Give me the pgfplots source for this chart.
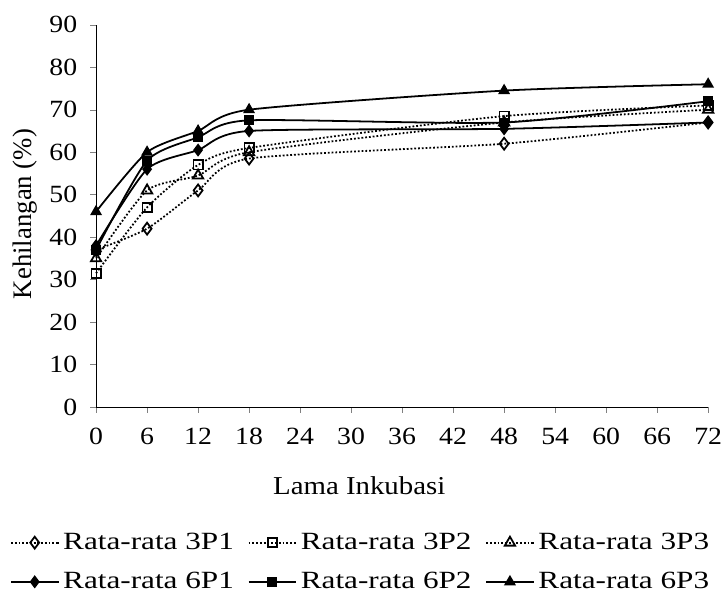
\documentclass[border=0pt]{standalone}
\usepackage{fontspec}
\setmainfont{Liberation Serif}
\newfontfamily\wide[FakeStretch=1.12]{Liberation Serif}
\newfontfamily\legfont[FakeStretch=1.26]{Liberation Serif}
\usepackage{pgfplots}
\pgfplotsset{compat=1.18}

\begin{document}
\begin{tikzpicture}
\begin{axis}[
    width=309pt, height=193pt,
    scale only axis,
    axis lines*=left,
    xmin=0, xmax=72, ymin=0, ymax=90,
    xtick={0,6,...,72}, ytick={0,10,...,90},
    tick align=outside,
    major tick length=3pt,
    clip=false,
    /pgf/number format/assume math mode=true,
    tick label style={font=\wide\fontsize{12.5}{14}\selectfont},
    xticklabel style={yshift=-4pt, inner xsep=0.5pt},
    yticklabel style={xshift=-3pt},
    xlabel={Lama Inkubasi},
    ylabel={Kehilangan\ (\%)},
    x label style={font=\wide\fontsize{13}{15}\selectfont,
        at={(axis description cs:0.43,-0.205)}, anchor=center},
    y label style={font=\fontsize{13.5}{15}\selectfont,
        at={(axis description cs:-0.1157,0.505)}, anchor=center},
    every axis plot/.append style={line width=0.9pt, smooth, tension=0.4},
    legend columns=3,
    legend style={draw=none, at={(axis description cs:-0.141,-0.318)}, anchor=north west,
        font=\legfont\fontsize{12.5}{14}\selectfont,
        /tikz/every even column/.append style={column sep=5pt},
        row sep=6pt, inner sep=0pt},
    legend cell align=left,
    legend image code/.code={%
        \draw[mark repeat=2,mark phase=2] plot coordinates {(0cm,0cm) (0.42cm,0cm) (0.84cm,0cm)};},
    after end axis/.code={\path (rel axis cs:0,1) ++(-48.5pt,12.5pt);},
]
\addplot[black, densely dotted, mark=diamond, mark size=3pt, mark options={solid, fill=white}] coordinates {
    (0,37) (6,42) (12,51) (18,58.5) (48,62) (72,67)};
\addlegendentry{Rata-rata 3P1}
\addplot[black, densely dotted, mark=square, mark size=2.3pt, mark options={solid, fill=white}] coordinates {
    (0,31.5) (6,47) (12,57) (18,61) (48,68.5) (72,71)};
\addlegendentry{Rata-rata 3P2}
\addplot[black, densely dotted, mark=triangle, mark size=3pt, mark options={solid, fill=white}] coordinates {
    (0,35) (6,51) (12,54.5) (18,60) (48,67) (72,70)};
\addlegendentry{Rata-rata 3P3}
\addplot[black, mark=diamond*, mark size=2.6pt] coordinates {
    (0,38) (6,56) (12,60.5) (18,65) (48,65.5) (72,67)};
\addlegendentry{Rata-rata 6P1}
\addplot[black, mark=square*, mark size=2pt] coordinates {
    (0,37) (6,58) (12,63.5) (18,67.5) (48,67) (72,72)};
\addlegendentry{Rata-rata 6P2}
\addplot[black, mark=triangle*, mark size=2.6pt] coordinates {
    (0,46) (6,60) (12,65) (18,70) (48,74.5) (72,76)};
\addlegendentry{Rata-rata 6P3}
\end{axis}
\end{tikzpicture}
\end{document}
